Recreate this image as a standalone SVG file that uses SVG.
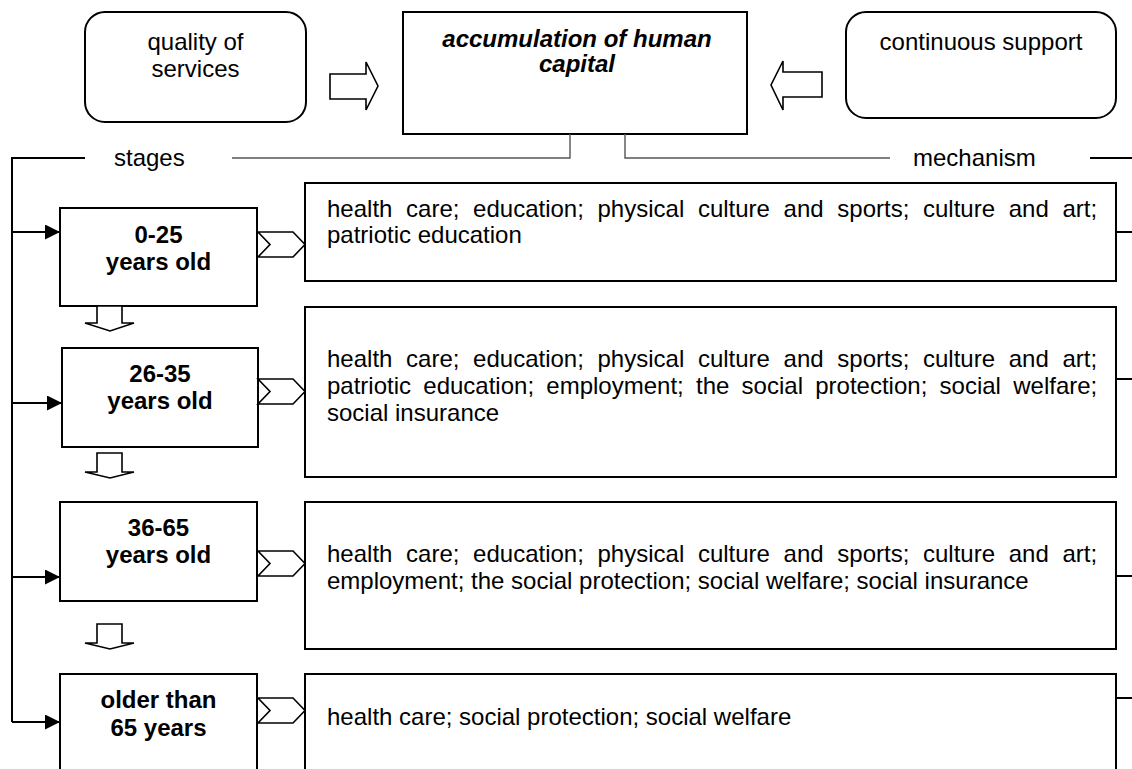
<svg xmlns="http://www.w3.org/2000/svg" width="1132" height="769" viewBox="0 0 1132 769">
<style>
text { font-family: "Liberation Sans", Arial, sans-serif; font-size: 24px; fill: #000; }
.b { font-weight: bold; }
.bi { font-weight: bold; font-style: italic; }
.c { text-anchor: middle; }
.box { fill: #fff; stroke: #000; stroke-width: 2; }
.arr { fill: #fff; stroke: #000; stroke-width: 1.6; stroke-linejoin: miter; }
.ln { fill: none; stroke: #000; stroke-width: 2; }
.lg { fill: none; stroke: #555; stroke-width: 1.4; }
.j { word-spacing: 7px; }
</style>
<defs>
<marker id="ah" viewBox="0 0 15 15" refX="15" refY="7.5" markerWidth="15" markerHeight="15" markerUnits="userSpaceOnUse" orient="auto">
<path d="M0,0 L15,7.5 L0,15 Z" fill="#000"/>
</marker>
</defs>

<g id="quality">
<rect class="box" x="85" y="12" width="221" height="110" rx="20" ry="20"/>
<text class="c" x="195.5" y="50">quality of</text>
<text class="c" x="195.5" y="77">services</text>
</g>

<g id="accumulation">
<rect class="box" x="403" y="12" width="344" height="122"/>
<text class="bi c" x="577" y="47">accumulation of human</text>
<text class="bi c" x="577" y="72">capital</text>
</g>

<g id="support">
<rect class="box" x="846" y="12" width="270" height="106" rx="20" ry="20"/>
<text class="c" x="981" y="50">continuous support</text>
</g>

<g id="labels">
<text x="114" y="166">stages</text>
<text x="913" y="166">mechanism</text>
</g>

<g id="stage1">
<rect class="box" x="60" y="208" width="197" height="98"/>
<text class="b c" x="158.5" y="243">0-25</text>
<text class="b c" x="158.5" y="270">years old</text>
</g>
<g id="stage2">
<rect class="box" x="62" y="348" width="196" height="99"/>
<text class="b c" x="160" y="382">26-35</text>
<text class="b c" x="160" y="409">years old</text>
</g>
<g id="stage3">
<rect class="box" x="60" y="502" width="197" height="99"/>
<text class="b c" x="158.5" y="536">36-65</text>
<text class="b c" x="158.5" y="563">years old</text>
</g>
<g id="stage4">
<rect class="box" x="60" y="674" width="197" height="110"/>
<text class="b c" x="158.5" y="708">older than</text>
<text class="b c" x="158.5" y="736">65 years</text>
</g>

<g id="mech1">
<rect class="box" x="305" y="183" width="811" height="98"/>
<text class="j" x="327" y="217">health care; education; physical culture and sports; culture and art;</text>
<text x="327" y="243">patriotic education</text>
</g>
<g id="mech2">
<rect class="box" x="305" y="307" width="811" height="170"/>
<text class="j" x="327" y="367">health care; education; physical culture and sports; culture and art;</text>
<text x="327" y="394" style="word-spacing:5.6px">patriotic education; employment; the social protection; social welfare;</text>
<text x="327" y="421">social insurance</text>
</g>
<g id="mech3">
<rect class="box" x="305" y="502" width="811" height="147"/>
<text class="j" x="327" y="562">health care; education; physical culture and sports; culture and art;</text>
<text x="327" y="589">employment; the social protection; social welfare; social insurance</text>
</g>
<g id="mech4">
<rect class="box" x="305" y="674" width="811" height="110"/>
<text x="327" y="725">health care; social protection; social welfare</text>
</g>

<g id="connectors">
<polygon class="arr" points="330,74 366,74 366,62 378,86 366,110 366,99 330,99"/>
<polygon class="arr" points="822,72 783,72 783,61 771,85 783,110 783,97 822,97"/>

<polyline class="ln" points="85,158 12,158 12,722"/>
<polyline class="lg" points="232,158 570,158 570,134"/>
<polyline class="lg" points="625,134 625,158 890,158"/>
<line class="ln" x1="1090" y1="158" x2="1132" y2="158"/>

<line class="ln" x1="12" y1="232" x2="60" y2="232" marker-end="url(#ah)"/>
<line class="ln" x1="12" y1="403" x2="62" y2="403" marker-end="url(#ah)"/>
<line class="ln" x1="12" y1="577" x2="60" y2="577" marker-end="url(#ah)"/>
<line class="ln" x1="12" y1="722" x2="60" y2="722" marker-end="url(#ah)"/>

<polygon class="arr" points="258,232 293,232 305,244.5 293,257 258,257 270,244.5"/>
<polygon class="arr" points="258,379 293,379 305,391.5 293,404 258,404 270,391.5"/>
<polygon class="arr" points="258,551 293,551 305,563.5 293,576 258,576 270,563.5"/>
<polygon class="arr" points="258,698 293,698 305,710.5 293,723 258,723 270,710.5"/>

<polygon class="arr" points="97,306 122,306 122,323 134,323 110,331 85,323 97,323"/>
<polygon class="arr" points="97,453 122,453 122,472 134,472 110,478 85,472 97,472"/>
<polygon class="arr" points="97,624 122,624 122,643 134,643 110,649 85,643 97,643"/>

<line class="ln" x1="1116" y1="232" x2="1132" y2="232"/>
<line class="ln" x1="1116" y1="379" x2="1132" y2="379"/>
<line class="ln" x1="1116" y1="576" x2="1132" y2="576"/>
<line class="ln" x1="1116" y1="698" x2="1132" y2="698"/>
</g>
</svg>
